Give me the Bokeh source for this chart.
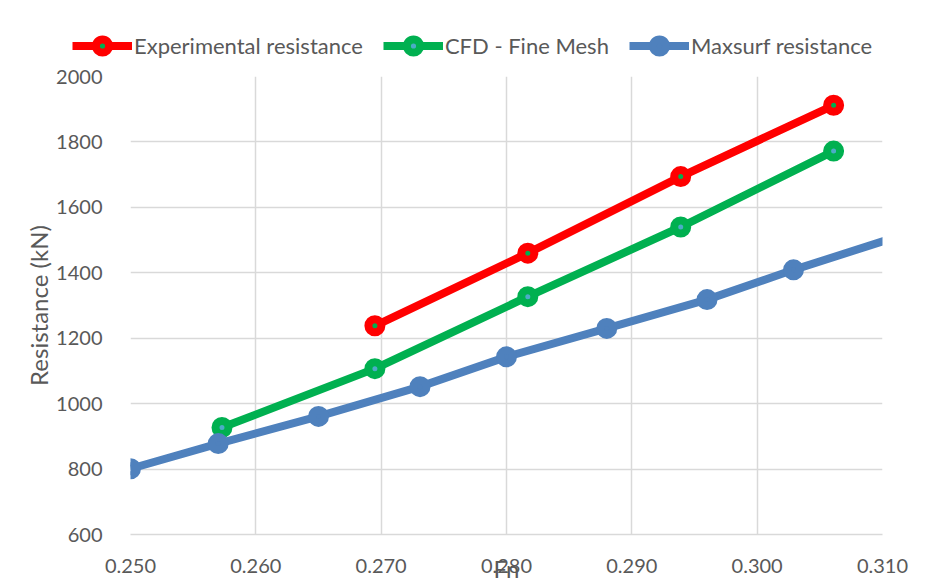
from bokeh.plotting import figure
from bokeh.layouts import column, row
from bokeh.models import FixedTicker, PrintfTickFormatter, Legend, LegendItem, Range1d
from bokeh.embed import file_html
from bokeh.resources import INLINE

# Data
exp_fn = [0.2695, 0.2817, 0.2939, 0.3061]
exp_res = [1238, 1460, 1694, 1912]

cfd_fn = [0.2573, 0.2695, 0.2817, 0.2939, 0.3061]
cfd_res = [927, 1107, 1327, 1540, 1772]

max_fn = [0.2500, 0.2570, 0.2650, 0.2731, 0.2800, 0.2880, 0.2960, 0.3029, 0.3110]
max_res = [801, 878, 961, 1052, 1143, 1230, 1318, 1409, 1508]

x_ticks = [0.25, 0.26, 0.27, 0.28, 0.29, 0.30, 0.31]
y_ticks = [600, 800, 1000, 1200, 1400, 1600, 1800, 2000]

names = ["Experimental resistance", "CFD - Fine Mesh", "Maxsurf resistance"]
colors = ["#FF0000", "#00B050", "#4F81BD"]
dots = ["#00B050", "#4BACC6", "#4F81BD"]

FONT = "Lato"
TXT = "#595959"
GRID = "#D9D9D9"
W = 928
H = 584
LEG_H = 64
LW = 8

# ---- legend strip ----
lg = figure(width=W, height=LEG_H, output_backend="svg", toolbar_location=None,
            x_axis_type=None, y_axis_type=None, x_range=Range1d(0, 1), y_range=Range1d(0, 1),
            min_border=0, min_border_left=0, min_border_right=0, min_border_top=0, min_border_bottom=0)
lg.outline_line_color = None
lg.grid.visible = False

items = []
for name, col, dot in zip(names, colors, dots):
    r1 = lg.line([-5, -4], [-5, -4], line_color=col, line_width=LW)
    r2 = lg.scatter([-5], [-5], marker="circle", size=13, line_color=col, line_width=8, fill_color=dot)
    items.append(LegendItem(label=name, renderers=[r1, r2]))
legend = Legend(items=items, orientation="horizontal", location=(72, 2),
                glyph_width=60, glyph_height=33, label_standoff=2, spacing=20,
                padding=0, margin=0, border_line_color=None, background_fill_alpha=0,
                label_text_font=FONT, label_text_font_size="22px", label_text_color=TXT)
lg.add_layout(legend, "center")

# ---- main plot ----
p = figure(width=W, height=H - LEG_H, output_backend="svg", toolbar_location=None,
           x_range=Range1d(0.25, 0.31), y_range=Range1d(600, 2000),
           frame_width=752, frame_height=458,
           min_border_left=130, min_border_right=W - 130 - 752,
           min_border_top=76 - LEG_H, min_border_bottom=H - 76 - 458)
p.outline_line_color = None

p.xaxis.ticker = FixedTicker(ticks=x_ticks)
p.yaxis.ticker = FixedTicker(ticks=y_ticks)
p.xaxis.formatter = PrintfTickFormatter(format="%.3f")
p.xgrid.ticker = FixedTicker(ticks=x_ticks)
p.ygrid.ticker = FixedTicker(ticks=y_ticks)
p.grid.grid_line_color = GRID
p.grid.grid_line_width = 1.5

for ax in (p.xaxis[0], p.yaxis[0]):
    ax.major_tick_line_color = None
    ax.minor_tick_line_color = None
    ax.major_label_text_font = FONT
    ax.major_label_text_font_size = "20px"
    ax.major_label_text_color = TXT
    ax.axis_label_text_font = FONT
    ax.axis_label_text_font_size = "24px"
    ax.axis_label_text_color = TXT
    ax.axis_label_text_font_style = "normal"
p.yaxis.axis_line_color = None
p.xaxis.axis_line_color = GRID
p.xaxis.axis_line_width = 1.5
p.xaxis.major_label_standoff = 18
p.yaxis.major_label_standoff = 22
p.xaxis.axis_label = "Fn"
p.yaxis.axis_label = "Resistance (kN)"
p.xaxis.axis_label_standoff = -22
p.yaxis.axis_label_standoff = 0

data = [(exp_fn, exp_res), (cfd_fn, cfd_res), (max_fn, max_res)]
for (xs, ys), col, dot in zip(data, colors, dots):
    p.line(xs, ys, line_color=col, line_width=LW)
    p.scatter(xs, ys, marker="circle", size=13, line_color=col, line_width=8, fill_color=dot)

layout = column(row(lg), p, spacing=0)
open("out.html", "w").write(file_html(layout, INLINE))
